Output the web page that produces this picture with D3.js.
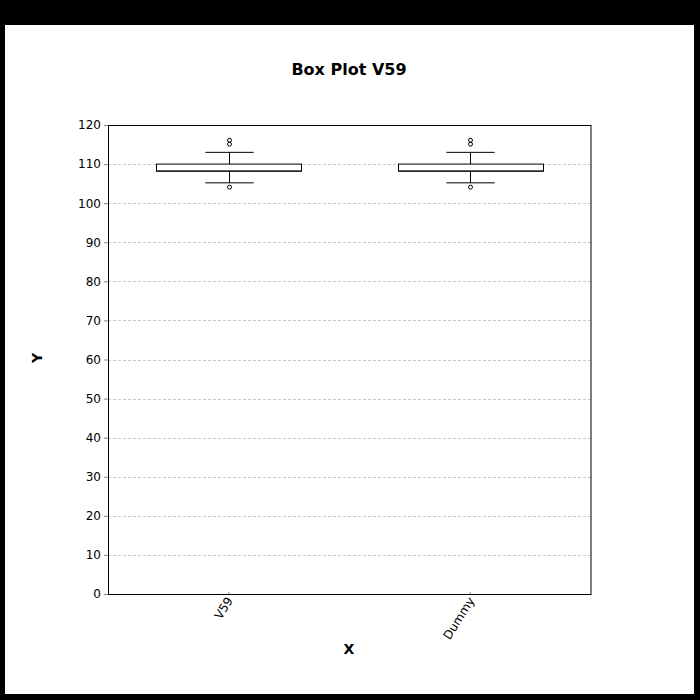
<!DOCTYPE html>
<html>
<head>
<meta charset="utf-8">
<script src="https://cdn.jsdelivr.net/npm/d3@7"></script>
<style>
html,body{margin:0;padding:0;background:#000;}
svg{display:block;}
</style>
</head>
<body>
<svg id="chart" width="700" height="700"></svg>
<script>
const categories = ["V59", "Dummy"];
const q1Values = [108.2, 108.2];
const medianValues = [108.2, 108.2];
const q3Values = [110.0, 110.0];
const whiskerLow = [105.2, 105.2];
const whiskerHigh = [113.0, 113.0];
const outliers = [[116.1, 115.1, 104.1], [116.1, 115.1, 104.1]];
const yTicks = [0, 10, 20, 30, 40, 50, 60, 70, 80, 90, 100, 110, 120];

const svg = d3.select("#chart");
const font = "DejaVu Sans, sans-serif";

svg.append("rect").attr("x", 5).attr("y", 25).attr("width", 689).attr("height", 669).attr("fill", "#fff");

const m = {left: 108, top: 125, right: 591, bottom: 594};
const x = d3.scaleBand().domain(categories).range([m.left, m.right]).paddingInner(0.4).paddingOuter(0.2);
const y = d3.scaleLinear().domain([0, 120]).range([m.bottom, m.top]);

// grid
svg.append("g").selectAll("line").data(yTicks.filter(t => t > 0 && t < 120)).join("line")
  .attr("x1", m.left).attr("x2", m.right)
  .attr("y1", d => Math.round(y(d)) + 0.5).attr("y2", d => Math.round(y(d)) + 0.5)
  .attr("stroke", "#c8c8c8").attr("stroke-width", 1).attr("stroke-dasharray", "3,2");

// y axis
const yAxis = svg.append("g").attr("transform", `translate(${m.left},0)`)
  .call(d3.axisLeft(y).tickValues(yTicks).tickSize(4).tickPadding(3));
yAxis.select(".domain").remove();
yAxis.selectAll("text").attr("font-family", font).attr("font-size", 12).attr("fill", "#000");
yAxis.selectAll("line").attr("stroke", "#888");

// x axis
const xAxis = svg.append("g").attr("transform", `translate(0,${m.bottom})`)
  .call(d3.axisBottom(x).tickSize(-2).tickPadding(6));
xAxis.select(".domain").remove();
xAxis.selectAll("line").attr("stroke", "#888");
xAxis.selectAll("text").attr("font-family", font).attr("font-size", 12).attr("fill", "#000")
  .attr("text-anchor", "end").attr("dy", "0.35em")
  .attr("transform", "translate(-4,1) rotate(-58)");

// frame
svg.append("rect").attr("x", m.left + 0.5).attr("y", m.top + 0.5)
  .attr("width", m.right - m.left - 0.5).attr("height", m.bottom - m.top)
  .attr("fill", "none").attr("stroke", "#000").attr("stroke-width", 1);

// boxes
const bw = x.bandwidth();
const g = svg.append("g").selectAll("g").data(categories).join("g");
g.each(function(c, i) {
  const s = d3.select(this);
  const cx = Math.round(x(c) + bw / 2) + 0.5;
  const capW = bw / 3;
  s.append("line").attr("x1", cx).attr("x2", cx).attr("y1", y(whiskerHigh[i])).attr("y2", y(q3Values[i])).attr("stroke", "#000");
  s.append("line").attr("x1", cx).attr("x2", cx).attr("y1", y(q1Values[i])).attr("y2", y(whiskerLow[i])).attr("stroke", "#000");
  s.append("line").attr("x1", cx - capW / 2).attr("x2", cx + capW / 2).attr("y1", y(whiskerHigh[i])).attr("y2", y(whiskerHigh[i])).attr("stroke", "#000");
  s.append("line").attr("x1", cx - capW / 2).attr("x2", cx + capW / 2).attr("y1", y(whiskerLow[i])).attr("y2", y(whiskerLow[i])).attr("stroke", "#000");
  s.append("rect").attr("x", Math.round(x(c)) + 0.5).attr("y", y(q3Values[i]))
    .attr("width", Math.round(bw)).attr("height", y(q1Values[i]) - y(q3Values[i]))
    .attr("fill", "#fff").attr("stroke", "#000");
  s.append("line").attr("x1", Math.round(x(c)) + 0.5).attr("x2", Math.round(x(c)) + 0.5 + Math.round(bw))
    .attr("y1", y(medianValues[i])).attr("y2", y(medianValues[i])).attr("stroke", "#000");
  s.selectAll("circle").data(outliers[i]).join("circle")
    .attr("cx", cx).attr("cy", d => y(d)).attr("r", 2)
    .attr("fill", "none").attr("stroke", "#000").attr("stroke-width", 1);
});

// title & labels
svg.append("text").attr("x", 349).attr("y", 75).attr("text-anchor", "middle")
  .attr("font-family", font).attr("font-size", 16).attr("font-weight", "bold").text("Box Plot V59");
svg.append("text").attr("x", 349).attr("y", 654).attr("text-anchor", "middle")
  .attr("font-family", font).attr("font-size", 14).attr("font-weight", "bold").text("X");
svg.append("text").attr("transform", "translate(42,358) rotate(-90)").attr("text-anchor", "middle")
  .attr("font-family", font).attr("font-size", 14).attr("font-weight", "bold").text("Y");
</script>
</body>
</html>
